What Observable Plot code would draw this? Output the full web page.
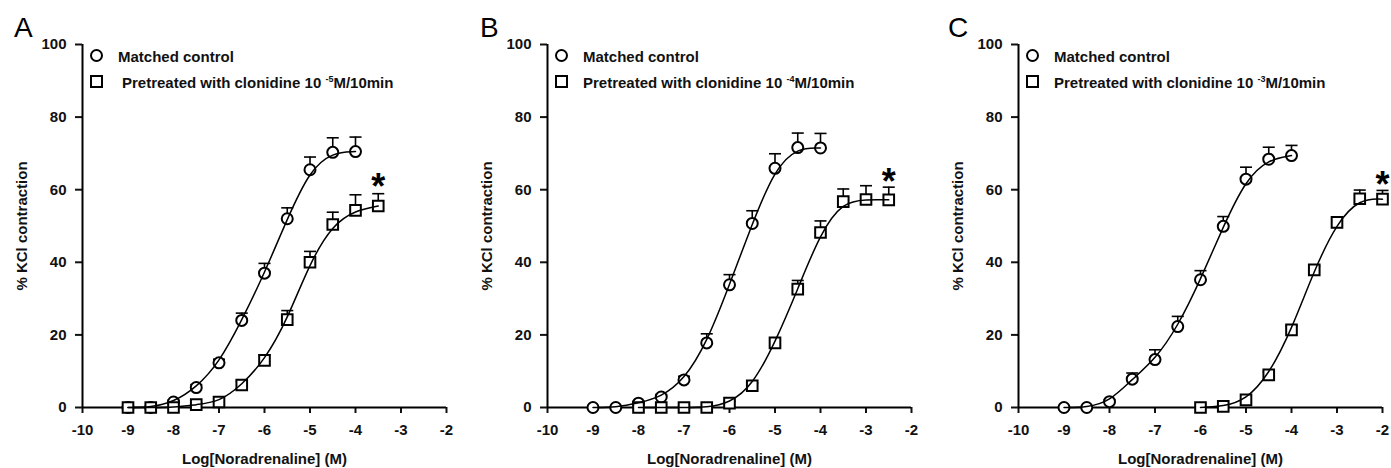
<!DOCTYPE html>
<html><head><meta charset="utf-8">
<script src="https://cdn.jsdelivr.net/npm/d3@7"></script>
<script src="https://cdn.jsdelivr.net/npm/@observablehq/plot@0.6"></script>
<style>
body{margin:0;background:#fff;overflow:hidden;font-family:"Liberation Sans",Arial,sans-serif;}
#fig{position:relative;width:1391px;height:468px;overflow:hidden;}
.panel{position:absolute;top:0;height:468px;}
.letter{position:absolute;font-size:28px;line-height:1;color:#000;}
.row{position:absolute;white-space:nowrap;font-weight:bold;font-size:15px;line-height:1;color:#111;}
.sym{position:absolute;width:9px;height:9px;border:2px solid #000;background:#fff;}
.sym.c{border-radius:50%;}
.row sup{font-size:9px;vertical-align:6px;line-height:0;}
svg [aria-label*="axis"] line, svg [aria-label*="axis"] path{stroke-width:2px;}
svg [aria-label$="label"] text{font-size:15px;}
</style></head><body><div id="fig"></div>
<script>
// ---- axes ----
const xTicks = [-10, -9, -8, -7, -6, -5, -4, -3, -2];
const yTicks = [0, 20, 40, 60, 80, 100];
const panelLetters = ["A", "B", "C"];
const clonidineExp = ["-5", "-4", "-3"];

// ---- Panel A ----
const doseCtrlA = [-9, -8.5, -8, -7.5, -7, -6.5, -6, -5.5, -5, -4.5, -4];
const ctrlA     = [0, 0, 1.5, 5.5, 12.3, 24, 37, 52, 65.5, 70.3, 70.5];
const errCtrlA  = [0, 0, 0.5, 0.8, 1, 2, 2.7, 3, 3.5, 4, 4];
const dosePreA  = [-9, -8.5, -8, -7.5, -7, -6.5, -6, -5.5, -5, -4.5, -4, -3.5];
const preA      = [0, 0, 0, 0.8, 1.5, 6.2, 13, 24.2, 40, 50.4, 54.3, 55.5];
const errPreA   = [0, 0, 0, 0.5, 0.7, 1, 1.5, 2.5, 3, 3.4, 4.3, 3.4];
const starA     = [-3.5, 62.1];

// ---- Panel B ----
const doseCtrlB = [-9, -8.5, -8, -7.5, -7, -6.5, -6, -5.5, -5, -4.5, -4];
const ctrlB     = [0, 0, 1.2, 2.9, 7.6, 17.8, 33.8, 50.7, 65.9, 71.6, 71.5];
const errCtrlB  = [0, 0, 0.5, 0.7, 1, 2.5, 2.8, 3.5, 4, 4, 4];
const dosePreB  = [-8, -7.5, -7, -6.5, -6, -5.5, -5, -4.5, -4, -3.5, -3, -2.5];
const preB      = [0, 0, 0, 0, 1.2, 6, 17.8, 32.6, 48.2, 56.7, 57.3, 57.2];
const errPreB   = [0, 0, 0, 0, 0.5, 0.8, 1, 2.4, 3.2, 3.5, 3.8, 3.5];
const starB     = [-2.5, 63.4];

// ---- Panel C ----
const doseCtrlC = [-9, -8.5, -8, -7.5, -7, -6.5, -6, -5.5, -5, -4.5, -4];
const ctrlC     = [0, 0, 1.6, 7.8, 13.2, 22.3, 35.2, 49.9, 62.9, 68.4, 69.4];
const errCtrlC  = [0, 0, 0.5, 1.7, 2.7, 2.8, 2.5, 2.7, 3.3, 3.3, 2.8];
const dosePreC  = [-6, -5.5, -5, -4.5, -4, -3.5, -3, -2.5, -2];
const preC      = [0, 0.3, 2.1, 9, 21.4, 37.9, 51, 57.5, 57.4];
const errPreC   = [0, 0, 0.5, 0.8, 1, 1, 1, 2.4, 2.4];
const starC     = [-2, 62.5];

const panels = [
  {ctrl: [doseCtrlA, ctrlA, errCtrlA], pre: [dosePreA, preA, errPreA], star: starA},
  {ctrl: [doseCtrlB, ctrlB, errCtrlB], pre: [dosePreB, preB, errPreB], star: starB},
  {ctrl: [doseCtrlC, ctrlC, errCtrlC], pre: [dosePreC, preC, errPreC], star: starC}
];
const panelLeft = [0, 465, 936];

function table([xs, ys, es]) { return xs.map((x, i) => ({x, y: ys[i], e: es[i]})); }
const capSymbol = {draw(ctx, size) { const w = Math.sqrt(size); ctx.moveTo(-w, 0); ctx.lineTo(w, 0); }};

const fig = document.getElementById("fig");
panels.forEach((p, i) => {
  const ctrl = table(p.ctrl), pre = table(p.pre);
  const errs = ctrl.concat(pre).filter(d => d.e > 0);
  const chart = Plot.plot({
    width: 455, height: 468,
    marginLeft: 82, marginRight: 9, marginTop: 44, marginBottom: 61,
    style: {fontFamily: "Liberation Sans, Arial, sans-serif", fontSize: "13px", fontWeight: "bold", color: "#111", background: "transparent", overflow: "visible"},
    x: {domain: [-10, -2], ticks: xTicks, tickFormat: d => String(d), tickSize: 6, tickPadding: 11,
        label: "Log[Noradrenaline] (M)", labelAnchor: "center", labelOffset: 56, labelArrow: "none"},
    y: {domain: [0, 100], ticks: yTicks, tickFormat: d => String(d), tickSize: 7, tickPadding: 9,
        label: "% KCl contraction", labelAnchor: "center", labelOffset: 66, labelArrow: "none"},
    marks: [
      Plot.ruleX([-10], {stroke: "#000", strokeWidth: 2}),
      Plot.ruleY([0], {stroke: "#000", strokeWidth: 2}),
      Plot.ruleX(errs, {x: "x", y1: "y", y2: d => d.y + d.e, stroke: "#000", strokeWidth: 1.6}),
      Plot.dot(errs, {x: "x", y: d => d.y + d.e, symbol: capSymbol, r: 3.4, stroke: "#000", strokeWidth: 1.6}),
      Plot.dot(ctrl, {x: "x", y: "y", symbol: "circle", r: 5.5, fill: "#fff", stroke: "#000", strokeWidth: 2}),
      Plot.dot(pre, {x: "x", y: "y", symbol: "square", r: 6, fill: "#fff", stroke: "#000", strokeWidth: 2}),
      Plot.line(ctrl, {x: "x", y: "y", curve: "basis", stroke: "#000", strokeWidth: 1.5}),
      Plot.line(pre, {x: "x", y: "y", curve: "basis", stroke: "#000", strokeWidth: 1.5}),
      Plot.text([p.star], {x: d => d[0], y: d => d[1], text: () => "*", fontSize: 36, fontWeight: "bold", dy: 5, fill: "#000"})
    ]
  });
  const div = document.createElement("div");
  div.className = "panel";
  div.style.left = panelLeft[i] + "px";
  div.style.width = "455px";
  div.appendChild(chart);
  const letter = document.createElement("div");
  letter.className = "letter";
  letter.textContent = panelLetters[i];
  letter.style.left = [14, 15, 12][i] + "px";
  letter.style.top = "14px";
  div.appendChild(letter);
  const s1 = document.createElement("div"); s1.className = "sym c"; s1.style.left = "90px"; s1.style.top = "49px"; div.appendChild(s1);
  const s2 = document.createElement("div"); s2.className = "sym"; s2.style.left = "90px"; s2.style.top = "75px"; div.appendChild(s2);
  const r1 = document.createElement("div"); r1.className = "row"; r1.style.left = "118px"; r1.style.top = "48.7px";
  r1.textContent = "Matched control"; div.appendChild(r1);
  const r2 = document.createElement("div"); r2.className = "row"; r2.style.left = (i === 0 ? 122 : 118) + "px"; r2.style.top = "74.7px";
  r2.innerHTML = "Pretreated with clonidine 10 <sup>" + clonidineExp[i] + "</sup>M/10min"; div.appendChild(r2);
  fig.appendChild(div);
});
</script>
</body></html>
